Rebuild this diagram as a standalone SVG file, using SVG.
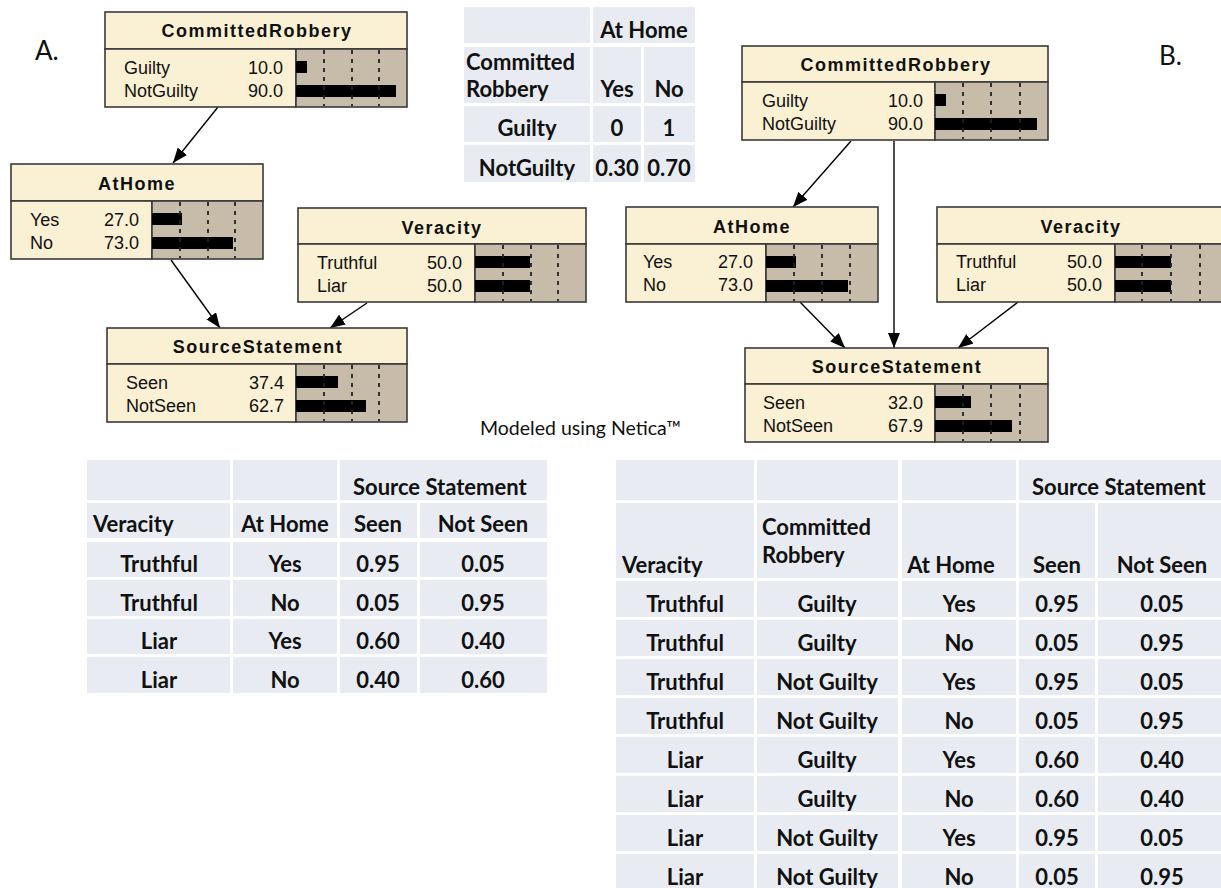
<svg xmlns="http://www.w3.org/2000/svg" width="1221" height="888" viewBox="0 0 1221 888">
<style>
.nb{fill:#faf0d3;stroke:#3a3a3a;stroke-width:1.6}
.ba{fill:#c6bca9;stroke:#3a3a3a;stroke-width:1.6}
.bar{fill:#000}
.dl{stroke:#222;stroke-width:1.8;stroke-dasharray:4 5}
.ttl{font-family:'Liberation Sans',Arial,sans-serif;font-weight:bold;font-size:18px;letter-spacing:1.5px;text-anchor:middle;fill:#111}
.st{font-family:'Liberation Sans',Arial,sans-serif;font-size:18px;fill:#111}
.v{text-anchor:end}
.cell{fill:#e8ecf2}
.tb{font-family:Lato,'Open Sans',sans-serif;font-weight:bold;font-size:22px;fill:#111}
.c{text-anchor:middle}
.lab{font-family:Lato,'Open Sans',sans-serif;font-size:26px;fill:#111}
.note{font-family:Lato,'Open Sans',sans-serif;font-size:19.5px;fill:#111}
.cn{stroke:#000;stroke-width:1.4;fill:none;marker-end:url(#ah)}
</style>
<defs>
<marker id="ah" markerUnits="userSpaceOnUse" markerWidth="16" markerHeight="12" refX="15" refY="6" orient="auto">
<path d="M0,0 L15,6 L0,12 z" fill="#000"/>
</marker>
</defs>
<rect width="1221" height="888" fill="#fff"/>

<text class="lab" x="35" y="60">A.</text>
<text class="lab" x="1159" y="65">B.</text>
<text class="note" x="480" y="435">Modeled using Netica™</text>

<!-- connectors -->
<g id="connectors">
<line class="cn" x1="218" y1="107" x2="173" y2="163"/>
<line class="cn" x1="171" y1="260" x2="220" y2="328"/>
<line class="cn" x1="367" y1="303" x2="330" y2="328"/>
<line class="cn" x1="851" y1="141" x2="793" y2="207"/>
<line class="cn" x1="894" y1="141" x2="894" y2="348"/>
<line class="cn" x1="800" y1="302" x2="845" y2="348"/>
<line class="cn" x1="1018" y1="302" x2="958" y2="348"/>
</g>

<!-- A: CommittedRobbery -->
<g id="nodeA-CommittedRobbery">
<rect class="nb" x="105" y="12" width="302" height="37"/>
<rect class="nb" x="105" y="49" width="191" height="58"/>
<rect class="ba" x="296" y="49" width="111" height="58"/>
<text class="ttl" x="257" y="37">CommittedRobbery</text>
<text class="st" x="124" y="74">Guilty</text><text class="st v" x="283" y="74">10.0</text>
<text class="st" x="124" y="97">NotGuilty</text><text class="st v" x="283" y="97">90.0</text>
<rect class="bar" x="296" y="61" width="11" height="12"/>
<rect class="bar" x="296" y="85" width="100" height="12"/>
<line class="dl" x1="324" y1="50" x2="324" y2="106"/><line class="dl" x1="352" y1="50" x2="352" y2="106"/><line class="dl" x1="379" y1="50" x2="379" y2="106"/>
</g>

<!-- A: AtHome -->
<g id="nodeA-AtHome">
<rect class="nb" x="11" y="164" width="252" height="37"/>
<rect class="nb" x="11" y="201" width="141" height="58"/>
<rect class="ba" x="152" y="201" width="111" height="58"/>
<text class="ttl" x="137" y="190">AtHome</text>
<text class="st" x="30" y="226">Yes</text><text class="st v" x="139" y="226">27.0</text>
<text class="st" x="30" y="249">No</text><text class="st v" x="139" y="249">73.0</text>
<rect class="bar" x="152" y="213" width="30" height="12"/>
<rect class="bar" x="152" y="237" width="81" height="12"/>
<line class="dl" x1="180" y1="202" x2="180" y2="258"/><line class="dl" x1="208" y1="202" x2="208" y2="258"/><line class="dl" x1="235" y1="202" x2="235" y2="258"/>
</g>

<!-- A: Veracity -->
<g id="nodeA-Veracity">
<rect class="nb" x="298" y="208" width="288" height="36"/>
<rect class="nb" x="298" y="244" width="177" height="58"/>
<rect class="ba" x="475" y="244" width="111" height="58"/>
<text class="ttl" x="442" y="234">Veracity</text>
<text class="st" x="317" y="269">Truthful</text><text class="st v" x="462" y="269">50.0</text>
<text class="st" x="317" y="292">Liar</text><text class="st v" x="462" y="292">50.0</text>
<rect class="bar" x="475" y="256" width="55" height="12"/>
<rect class="bar" x="475" y="280" width="55" height="12"/>
<line class="dl" x1="503" y1="245" x2="503" y2="301"/><line class="dl" x1="531" y1="245" x2="531" y2="301"/><line class="dl" x1="558" y1="245" x2="558" y2="301"/>
</g>

<!-- A: SourceStatement -->
<g id="nodeA-SourceStatement">
<rect class="nb" x="107" y="328" width="300" height="36"/>
<rect class="nb" x="107" y="364" width="189" height="58"/>
<rect class="ba" x="296" y="364" width="111" height="58"/>
<text class="ttl" x="258" y="353">SourceStatement</text>
<text class="st" x="126" y="389">Seen</text><text class="st v" x="284" y="389">37.4</text>
<text class="st" x="126" y="412">NotSeen</text><text class="st v" x="284" y="412">62.7</text>
<rect class="bar" x="296" y="376" width="42" height="12"/>
<rect class="bar" x="296" y="400" width="70" height="12"/>
<line class="dl" x1="324" y1="365" x2="324" y2="421"/><line class="dl" x1="352" y1="365" x2="352" y2="421"/><line class="dl" x1="379" y1="365" x2="379" y2="421"/>
</g>

<!-- B: CommittedRobbery -->
<g id="nodeB-CommittedRobbery">
<rect class="nb" x="742" y="46" width="306" height="36"/>
<rect class="nb" x="742" y="82" width="193" height="58"/>
<rect class="ba" x="935" y="82" width="113" height="58"/>
<text class="ttl" x="896" y="71">CommittedRobbery</text>
<text class="st" x="762" y="107">Guilty</text><text class="st v" x="923" y="107">10.0</text>
<text class="st" x="762" y="130">NotGuilty</text><text class="st v" x="923" y="130">90.0</text>
<rect class="bar" x="935" y="94" width="11" height="12"/>
<rect class="bar" x="935" y="118" width="102" height="12"/>
<line class="dl" x1="963" y1="83" x2="963" y2="139"/><line class="dl" x1="991" y1="83" x2="991" y2="139"/><line class="dl" x1="1020" y1="83" x2="1020" y2="139"/>
</g>

<!-- B: AtHome -->
<g id="nodeB-AtHome">
<rect class="nb" x="626" y="207" width="252" height="37"/>
<rect class="nb" x="626" y="244" width="140" height="58"/>
<rect class="ba" x="766" y="244" width="112" height="58"/>
<text class="ttl" x="752" y="233">AtHome</text>
<text class="st" x="643" y="268">Yes</text><text class="st v" x="753" y="268">27.0</text>
<text class="st" x="643" y="291">No</text><text class="st v" x="753" y="291">73.0</text>
<rect class="bar" x="766" y="256" width="30" height="12"/>
<rect class="bar" x="766" y="280" width="82" height="12"/>
<line class="dl" x1="794" y1="245" x2="794" y2="301"/><line class="dl" x1="822" y1="245" x2="822" y2="301"/><line class="dl" x1="850" y1="245" x2="850" y2="301"/>
</g>

<!-- B: Veracity -->
<g id="nodeB-Veracity">
<rect class="nb" x="937" y="207" width="288" height="37"/>
<rect class="nb" x="937" y="244" width="178" height="58"/>
<rect class="ba" x="1115" y="244" width="110" height="58"/>
<text class="ttl" x="1081" y="233">Veracity</text>
<text class="st" x="956" y="268">Truthful</text><text class="st v" x="1102" y="268">50.0</text>
<text class="st" x="956" y="291">Liar</text><text class="st v" x="1102" y="291">50.0</text>
<rect class="bar" x="1115" y="256" width="56" height="12"/>
<rect class="bar" x="1115" y="280" width="56" height="12"/>
<line class="dl" x1="1142" y1="245" x2="1142" y2="301"/><line class="dl" x1="1171" y1="245" x2="1171" y2="301"/><line class="dl" x1="1200" y1="245" x2="1200" y2="301"/>
</g>

<!-- B: SourceStatement -->
<g id="nodeB-SourceStatement">
<rect class="nb" x="745" y="348" width="303" height="36"/>
<rect class="nb" x="745" y="384" width="190" height="58"/>
<rect class="ba" x="935" y="384" width="113" height="58"/>
<text class="ttl" x="897" y="373">SourceStatement</text>
<text class="st" x="763" y="409">Seen</text><text class="st v" x="923" y="409">32.0</text>
<text class="st" x="763" y="432">NotSeen</text><text class="st v" x="923" y="432">67.9</text>
<rect class="bar" x="935" y="396" width="36" height="12"/>
<rect class="bar" x="935" y="420" width="77" height="12"/>
<line class="dl" x1="963" y1="385" x2="963" y2="441"/><line class="dl" x1="991" y1="385" x2="991" y2="441"/><line class="dl" x1="1020" y1="385" x2="1020" y2="441"/>
</g>

<!-- Top table -->
<g id="table-AtHome">
<rect class="cell" x="464" y="7" width="126" height="36"/><rect class="cell" x="593" y="7" width="102" height="36"/>
<rect class="cell" x="464" y="47" width="126" height="56"/><rect class="cell" x="593" y="47" width="48" height="56"/><rect class="cell" x="644" y="47" width="51" height="56"/>
<rect class="cell" x="464" y="106" width="126" height="36"/><rect class="cell" x="593" y="106" width="48" height="36"/><rect class="cell" x="644" y="106" width="51" height="36"/>
<rect class="cell" x="464" y="145" width="126" height="37"/><rect class="cell" x="593" y="145" width="48" height="37"/><rect class="cell" x="644" y="145" width="51" height="37"/>
<text class="tb c" x="644" y="38">At Home</text>
<text class="tb" x="466" y="70">Committed</text>
<text class="tb" x="466" y="97">Robbery</text>
<text class="tb c" x="617" y="97">Yes</text><text class="tb c" x="669" y="97">No</text>
<text class="tb c" x="527" y="136">Guilty</text><text class="tb c" x="617" y="136">0</text><text class="tb c" x="669" y="136">1</text>
<text class="tb c" x="527" y="176">NotGuilty</text><text class="tb c" x="617" y="176">0.30</text><text class="tb c" x="669" y="176">0.70</text>
</g>

<!-- Bottom left table -->
<g id="table-A-SourceStatement">
<rect class="cell" x="87" y="460" width="143" height="40"/><rect class="cell" x="233" y="460" width="104" height="40"/><rect class="cell" x="340" y="460" width="207" height="40"/>
<rect class="cell" x="87" y="503" width="143" height="35"/><rect class="cell" x="233" y="503" width="104" height="35"/><rect class="cell" x="340" y="503" width="77" height="35"/><rect class="cell" x="420" y="503" width="127" height="35"/>
<rect class="cell" x="87" y="542" width="143" height="35"/><rect class="cell" x="233" y="542" width="104" height="35"/><rect class="cell" x="340" y="542" width="77" height="35"/><rect class="cell" x="420" y="542" width="127" height="35"/>
<rect class="cell" x="87" y="580" width="143" height="36"/><rect class="cell" x="233" y="580" width="104" height="36"/><rect class="cell" x="340" y="580" width="77" height="36"/><rect class="cell" x="420" y="580" width="127" height="36"/>
<rect class="cell" x="87" y="619" width="143" height="35"/><rect class="cell" x="233" y="619" width="104" height="35"/><rect class="cell" x="340" y="619" width="77" height="35"/><rect class="cell" x="420" y="619" width="127" height="35"/>
<rect class="cell" x="87" y="657" width="143" height="36"/><rect class="cell" x="233" y="657" width="104" height="36"/><rect class="cell" x="340" y="657" width="77" height="36"/><rect class="cell" x="420" y="657" width="127" height="36"/>
<text class="tb" x="353" y="495">Source Statement</text>
<text class="tb" x="93" y="532">Veracity</text><text class="tb c" x="285" y="532">At Home</text><text class="tb c" x="378" y="532">Seen</text><text class="tb c" x="483" y="532">Not Seen</text>
<text class="tb c" x="159" y="572">Truthful</text><text class="tb c" x="285" y="572">Yes</text><text class="tb c" x="378" y="572">0.95</text><text class="tb c" x="483" y="572">0.05</text>
<text class="tb c" x="159" y="611">Truthful</text><text class="tb c" x="285" y="611">No</text><text class="tb c" x="378" y="611">0.05</text><text class="tb c" x="483" y="611">0.95</text>
<text class="tb c" x="159" y="649">Liar</text><text class="tb c" x="285" y="649">Yes</text><text class="tb c" x="378" y="649">0.60</text><text class="tb c" x="483" y="649">0.40</text>
<text class="tb c" x="159" y="688">Liar</text><text class="tb c" x="285" y="688">No</text><text class="tb c" x="378" y="688">0.40</text><text class="tb c" x="483" y="688">0.60</text>
</g>

<!-- Bottom right table -->
<g id="table-B-SourceStatement">
<rect class="cell" x="616" y="460" width="138" height="40"/><rect class="cell" x="757" y="460" width="141" height="40"/><rect class="cell" x="902" y="460" width="114" height="40"/><rect class="cell" x="1019" y="460" width="210" height="40"/>
<rect class="cell" x="616" y="503" width="138" height="75"/><rect class="cell" x="757" y="503" width="141" height="75"/><rect class="cell" x="902" y="503" width="114" height="75"/><rect class="cell" x="1019" y="503" width="76" height="75"/><rect class="cell" x="1098" y="503" width="131" height="75"/>
<g id="rows-B">
<rect class="cell" x="616" y="581" width="138" height="36"/><rect class="cell" x="757" y="581" width="141" height="36"/><rect class="cell" x="902" y="581" width="114" height="36"/><rect class="cell" x="1019" y="581" width="76" height="36"/><rect class="cell" x="1098" y="581" width="131" height="36"/>
<rect class="cell" x="616" y="620" width="138" height="36"/><rect class="cell" x="757" y="620" width="141" height="36"/><rect class="cell" x="902" y="620" width="114" height="36"/><rect class="cell" x="1019" y="620" width="76" height="36"/><rect class="cell" x="1098" y="620" width="131" height="36"/>
<rect class="cell" x="616" y="659" width="138" height="36"/><rect class="cell" x="757" y="659" width="141" height="36"/><rect class="cell" x="902" y="659" width="114" height="36"/><rect class="cell" x="1019" y="659" width="76" height="36"/><rect class="cell" x="1098" y="659" width="131" height="36"/>
<rect class="cell" x="616" y="698" width="138" height="36"/><rect class="cell" x="757" y="698" width="141" height="36"/><rect class="cell" x="902" y="698" width="114" height="36"/><rect class="cell" x="1019" y="698" width="76" height="36"/><rect class="cell" x="1098" y="698" width="131" height="36"/>
<rect class="cell" x="616" y="737" width="138" height="36"/><rect class="cell" x="757" y="737" width="141" height="36"/><rect class="cell" x="902" y="737" width="114" height="36"/><rect class="cell" x="1019" y="737" width="76" height="36"/><rect class="cell" x="1098" y="737" width="131" height="36"/>
<rect class="cell" x="616" y="776" width="138" height="36"/><rect class="cell" x="757" y="776" width="141" height="36"/><rect class="cell" x="902" y="776" width="114" height="36"/><rect class="cell" x="1019" y="776" width="76" height="36"/><rect class="cell" x="1098" y="776" width="131" height="36"/>
<rect class="cell" x="616" y="815" width="138" height="36"/><rect class="cell" x="757" y="815" width="141" height="36"/><rect class="cell" x="902" y="815" width="114" height="36"/><rect class="cell" x="1019" y="815" width="76" height="36"/><rect class="cell" x="1098" y="815" width="131" height="36"/>
<rect class="cell" x="616" y="854" width="138" height="40"/><rect class="cell" x="757" y="854" width="141" height="40"/><rect class="cell" x="902" y="854" width="114" height="40"/><rect class="cell" x="1019" y="854" width="76" height="40"/><rect class="cell" x="1098" y="854" width="131" height="40"/>
</g>
<text class="tb" x="1032" y="495">Source Statement</text>
<text class="tb" x="622" y="573">Veracity</text>
<text class="tb" x="762" y="535">Committed</text><text class="tb" x="762" y="563">Robbery</text>
<text class="tb c" x="951" y="573">At Home</text><text class="tb c" x="1057" y="573">Seen</text><text class="tb c" x="1162" y="573">Not Seen</text>
<text class="tb c" x="685" y="612">Truthful</text><text class="tb c" x="827" y="612">Guilty</text><text class="tb c" x="959" y="612">Yes</text><text class="tb c" x="1057" y="612">0.95</text><text class="tb c" x="1162" y="612">0.05</text>
<text class="tb c" x="685" y="651">Truthful</text><text class="tb c" x="827" y="651">Guilty</text><text class="tb c" x="959" y="651">No</text><text class="tb c" x="1057" y="651">0.05</text><text class="tb c" x="1162" y="651">0.95</text>
<text class="tb c" x="685" y="690">Truthful</text><text class="tb c" x="827" y="690">Not Guilty</text><text class="tb c" x="959" y="690">Yes</text><text class="tb c" x="1057" y="690">0.95</text><text class="tb c" x="1162" y="690">0.05</text>
<text class="tb c" x="685" y="729">Truthful</text><text class="tb c" x="827" y="729">Not Guilty</text><text class="tb c" x="959" y="729">No</text><text class="tb c" x="1057" y="729">0.05</text><text class="tb c" x="1162" y="729">0.95</text>
<text class="tb c" x="685" y="768">Liar</text><text class="tb c" x="827" y="768">Guilty</text><text class="tb c" x="959" y="768">Yes</text><text class="tb c" x="1057" y="768">0.60</text><text class="tb c" x="1162" y="768">0.40</text>
<text class="tb c" x="685" y="807">Liar</text><text class="tb c" x="827" y="807">Guilty</text><text class="tb c" x="959" y="807">No</text><text class="tb c" x="1057" y="807">0.60</text><text class="tb c" x="1162" y="807">0.40</text>
<text class="tb c" x="685" y="846">Liar</text><text class="tb c" x="827" y="846">Not Guilty</text><text class="tb c" x="959" y="846">Yes</text><text class="tb c" x="1057" y="846">0.95</text><text class="tb c" x="1162" y="846">0.05</text>
<text class="tb c" x="685" y="885">Liar</text><text class="tb c" x="827" y="885">Not Guilty</text><text class="tb c" x="959" y="885">No</text><text class="tb c" x="1057" y="885">0.05</text><text class="tb c" x="1162" y="885">0.95</text>
</g>
</svg>
